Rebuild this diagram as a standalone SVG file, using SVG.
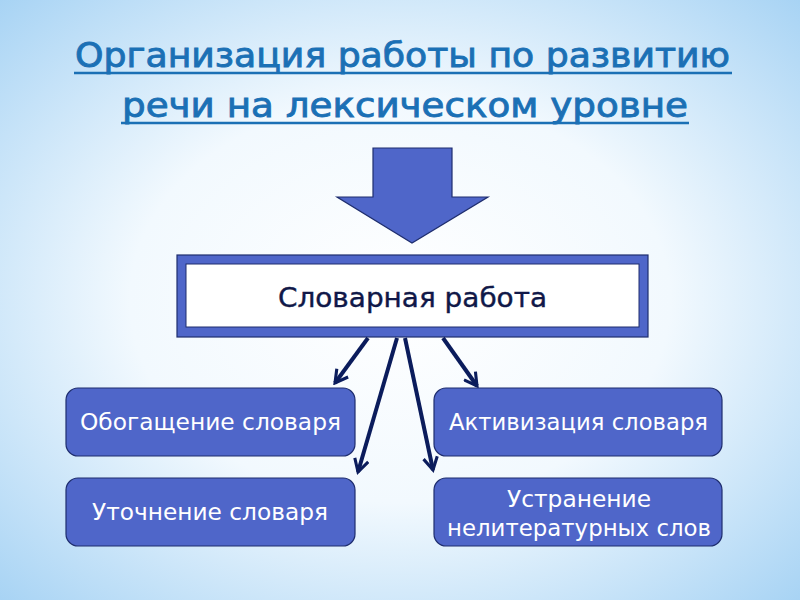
<svg xmlns="http://www.w3.org/2000/svg" width="800" height="600" viewBox="0 0 800 600">
<defs>
<radialGradient id="bg" cx="0.5" cy="0.5" r="0.75">
<stop offset="0" stop-color="#ffffff"/>
<stop offset="0.45" stop-color="#f2f9fe"/>
<stop offset="1" stop-color="#9fcff3"/>
</radialGradient>
<marker id="ah" viewBox="0 0 12 12" refX="10" refY="6" markerWidth="4.2" markerHeight="4.2" orient="auto" markerUnits="strokeWidth">
<path d="M1,1 L10,6 L1,11" fill="none" stroke="#0b1c5c" stroke-width="2.2" stroke-linejoin="miter"/>
</marker>
<style>
.title{font-family:"DejaVu Sans","Liberation Sans",sans-serif;font-size:34px;fill:#1b70b5;stroke:#1b70b5;stroke-width:0.9;text-anchor:middle}
.uline{stroke:#1b70b5;stroke-width:2.6}
.box{fill:#4f66c9;stroke:#1e2d6e;stroke-width:1.2}
.lbl{font-family:"DejaVu Sans","Liberation Sans",sans-serif;font-size:23px;fill:#ffffff;text-anchor:middle}
.main{font-family:"DejaVu Sans","Liberation Sans",sans-serif;font-size:27px;fill:#101848;stroke:#101848;stroke-width:0.4;text-anchor:middle}
.conn{stroke:#0b1c5c;stroke-width:4;fill:none;marker-end:url(#ah)}
</style>
</defs>
<rect width="800" height="600" fill="url(#bg)"/>
<g id="title">
<text class="title" x="402.5" y="67" textLength="655" lengthAdjust="spacingAndGlyphs">Организация работы по развитию</text>
<line class="uline" x1="74" y1="73" x2="732" y2="73"/>
<text class="title" x="405" y="117" textLength="566" lengthAdjust="spacingAndGlyphs">речи на лексическом уровне</text>
<line class="uline" x1="121" y1="123" x2="689" y2="123"/>
</g>
<g id="bigArrow">
<path class="box" d="M373,148 L452,148 L452,197 L488,197 L412,243 L337,197 L373,197 Z"/>
</g>
<g id="main">
<rect class="box" x="177" y="255" width="471" height="82"/>
<rect x="186" y="264" width="453" height="63" fill="#ffffff" stroke="#1e2d6e" stroke-width="1"/>
<text class="main" x="412.5" y="307" textLength="269" lengthAdjust="spacingAndGlyphs">Словарная работа</text>
</g>
<g id="connectors">
<line class="conn" x1="368" y1="338" x2="335" y2="383"/>
<line class="conn" x1="397" y1="338" x2="358" y2="472"/>
<line class="conn" x1="405" y1="338" x2="433" y2="470"/>
<line class="conn" x1="443" y1="338" x2="477" y2="386"/>
</g>
<g id="n1">
<rect class="box" x="66" y="388" width="289" height="68" rx="12"/>
<text class="lbl" x="210.5" y="430" textLength="261" lengthAdjust="spacingAndGlyphs">Обогащение словаря</text>
</g>
<g id="n2">
<rect class="box" x="434" y="388" width="288" height="68" rx="12"/>
<text class="lbl" x="578.5" y="430" textLength="259" lengthAdjust="spacingAndGlyphs">Активизация словаря</text>
</g>
<g id="n3">
<rect class="box" x="66" y="478" width="289" height="68" rx="12"/>
<text class="lbl" x="210" y="520" textLength="236" lengthAdjust="spacingAndGlyphs">Уточнение словаря</text>
</g>
<g id="n4">
<rect class="box" x="434" y="478" width="288" height="68" rx="12"/>
<text class="lbl" x="579" y="507" textLength="144" lengthAdjust="spacingAndGlyphs">Устранение</text>
<text class="lbl" x="579" y="536" textLength="264" lengthAdjust="spacingAndGlyphs">нелитературных слов</text>
</g>
</svg>
